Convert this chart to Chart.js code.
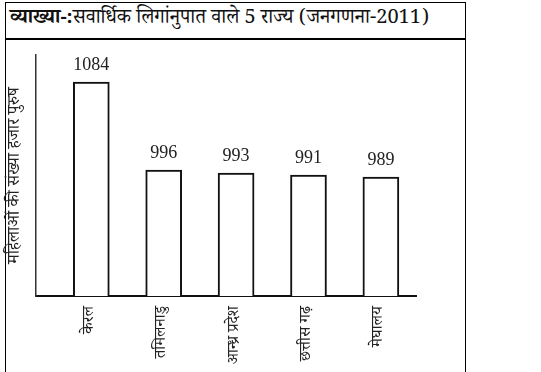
<!DOCTYPE html>
<html>
<head>
<meta charset="utf-8">
<script src="https://cdn.jsdelivr.net/npm/chart.js@4.4.1/dist/chart.umd.min.js"></script>
<style>
  html, body { margin: 0; padding: 0; background: #fff; }
  #frame {
    position: absolute; left: 5px; top: 2px; width: 461px; height: 390px;
    border: 1.5px solid #000; box-sizing: border-box;
  }
  #title {
    position: absolute; left: 5px; top: 2px; width: 461px; height: 38px;
    border-bottom: 2px solid #000; box-sizing: border-box;
    font-family: "Noto Serif Devanagari", "Noto Sans Devanagari", "Liberation Serif", serif;
    font-size: 20px; line-height: 36px; padding-left: 5px; color: #111;
    white-space: nowrap;
  }
  #wrap { position: absolute; left: 0; top: 0; width: 541px; height: 372px; }
</style>
</head>
<body>
<div id="frame"></div>
<div id="title"><b>व्याख्या-:</b>सवार्धिक लिगांनुपात वाले 5 राज्य (जनगणना-2011)</div>
<div id="wrap"><canvas id="myChart" width="541" height="372"></canvas></div>
<script>
/* globals Chart:false */

// Data
const states = ['केरल', 'तमिलनाडु', 'आन्ध्र प्रदेश', 'छत्तीस गढ़', 'मेघालय']
const sexRatio = [1084, 996, 993, 991, 989]
const yTitle = 'महिलाओं की संख्या हजार पुरुष'

const devFont = '"Noto Serif Devanagari", "Noto Sans Devanagari", "Liberation Serif", serif'

// value labels above bars
const valueLabels = {
  id: 'valueLabels',
  afterDatasetsDraw (chart) {
    const { ctx } = chart
    const meta = chart.getDatasetMeta(0)
    ctx.save()
    ctx.font = '18px "Liberation Serif", serif'
    ctx.fillStyle = '#222'
    ctx.textAlign = 'center'
    ctx.textBaseline = 'bottom'
    meta.data.forEach((bar, i) => {
      ctx.fillText(String(sexRatio[i]), bar.x, bar.y - 8)
    })
    ctx.restore()
  }
}

const ctx = document.getElementById('myChart')
// eslint-disable-next-line no-unused-vars
const myChart = new Chart(ctx, {
  type: 'bar',
  data: {
    datasets: [{
      data: sexRatio.map((v, i) => ({ x: i, y: v })),
      backgroundColor: '#fff',
      borderColor: '#111',
      borderWidth: 2,
      borderSkipped: false,
      barThickness: 36
    }]
  },
  plugins: [valueLabels],
  options: {
    responsive: false,
    animation: false,
    layout: { padding: { left: 6, top: 55, right: 125, bottom: 0 } },
    plugins: {
      legend: { display: false },
      tooltip: { enabled: false }
    },
    scales: {
      x: {
        type: 'linear',
        offset: false,
        bounds: 'data',
        min: -0.764,
        max: 4.485,
        afterBuildTicks: s => { s.ticks = states.map((_, i) => ({ value: i })) },
        afterFit: s => { s.height = 76 },
        grid: { display: false, drawTicks: false },
        border: { display: true, color: '#111', width: 2 },
        ticks: {
          autoSkip: false,
          minRotation: 90,
          maxRotation: 90,
          padding: 10,
          color: '#222',
          font: { family: devFont, size: 16 },
          callback: v => states[v]
        }
      },
      y: {
        min: 870,
        max: 1111,
        afterFit: s => { s.width = 30 },
        grid: { display: false, drawTicks: false },
        border: { display: true, color: '#333', width: 1.5 },
        ticks: { display: false },
        title: {
          display: true,
          text: yTitle,
          color: '#222',
          padding: { top: 1, bottom: 0 },
          font: { family: devFont, size: 17 }
        }
      }
    }
  }
})
</script>
</body>
</html>
